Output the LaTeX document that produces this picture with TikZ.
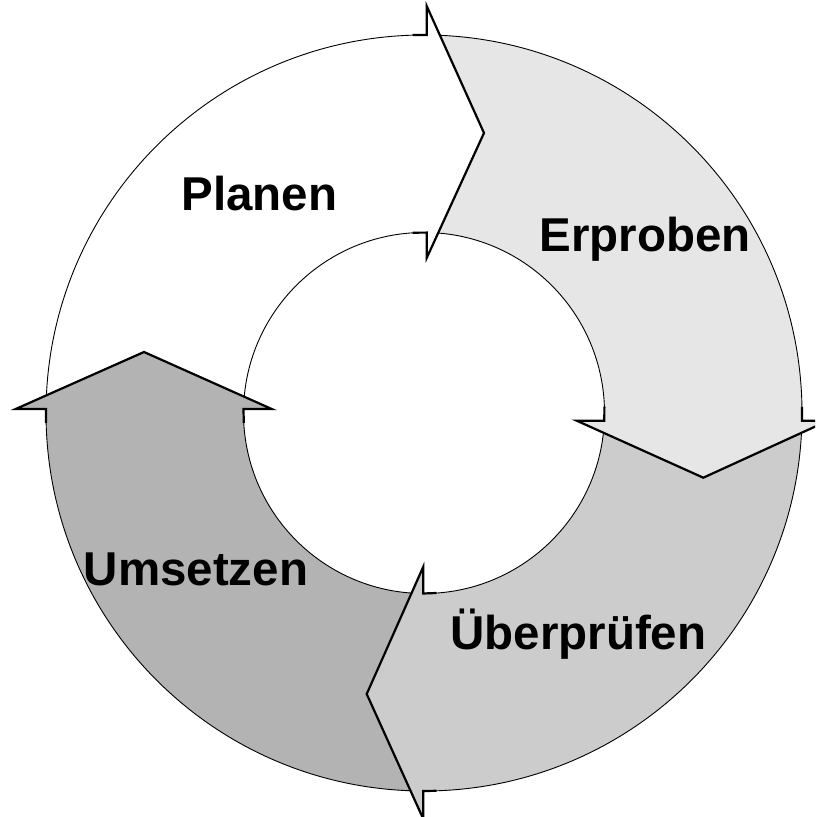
\documentclass[tikz,border=0pt]{standalone}
\usepackage{fontspec}
\setmainfont{Liberation Sans}
\definecolor{cPla}{HTML}{FFFFFF}
\definecolor{cErp}{HTML}{E6E6E6}
\definecolor{cUeb}{HTML}{CCCCCC}
\definecolor{cUms}{HTML}{B3B3B3}
\begin{document}
\begin{tikzpicture}[x=1pt,y=1pt,
  ringline/.style={line width=0.9pt},
  headline/.style={line width=2.2pt, line join=miter, miter limit=10},
  lbl/.style={font=\fontsize{47.5}{57}\selectfont\bfseries, anchor=base, inner sep=0pt}]
\useasboundingbox (0,0) rectangle (815,817);
\fill[white] (0,0) rectangle (815,817);
\clip (0,0) rectangle (815,817);
\coordinate (C) at (424,404);
% ---- bodies (annular sectors) ----
\fill[cPla] ([shift={(C)}]179.39:378) arc[start angle=179.39, end angle=89.59, radius=378]
  -- ([shift={(C)}]89.14:180.5) arc[start angle=89.14, end angle=178.73, radius=180.5] -- cycle;
\fill[cErp] ([shift={(C)}]89.59:378) arc[start angle=89.59, end angle=-1.17, radius=378]
  -- ([shift={(C)}]-2.44:180.5) arc[start angle=-2.44, end angle=89.14, radius=180.5] -- cycle;
\fill[cUeb] ([shift={(C)}]-1.17:378) arc[start angle=-1.17, end angle=-90.1, radius=378]
  -- ([shift={(C)}]-90.22:180.5) arc[start angle=-90.22, end angle=-2.44, radius=180.5] -- cycle;
\fill[cUms] ([shift={(C)}]-90.1:378) arc[start angle=-90.1, end angle=-180.61, radius=378]
  -- ([shift={(C)}]-181.27:180.5) arc[start angle=-181.27, end angle=-90.22, radius=180.5] -- cycle;
% ---- ring outlines ----
\draw[ringline] (C) circle[radius=378];
\draw[ringline] (C) circle[radius=180.5];
% ---- heads ----
% top (Planen)
\coordinate (tNo) at (412.7,782);   \coordinate (tBo) at (426.7,782);
\coordinate (tTo) at (426.7,811);   \coordinate (tP)  at (484,684);
\coordinate (tTi) at (426.7,559);   \coordinate (tBi) at (426.7,584.4);
\coordinate (tNi) at (412.7,584.3);
\fill[cPla] (tNo) -- (tBo) -- (tTo) -- (tP) -- (tTi) -- (tBi) -- (tNi) -- cycle;
\draw[headline] (tNo) -- (tBo) -- (tTo) -- (tP) -- (tTi) -- (tBi) -- (tNi);
% right (Erproben)
\coordinate (rNo) at (801.9,410.3); \coordinate (rBo) at (801.9,396.3);
\coordinate (rTo) at (828,396.3);   \coordinate (rP)  at (703.3,339.3);
\coordinate (rTi) at (576.7,396.3); \coordinate (rBi) at (604.3,396.3);
\coordinate (rNi) at (604.4,410.3);
\fill[cErp] (rNo) -- (rBo) -- (rTo) -- (rP) -- (rTi) -- (rBi) -- (rNi) -- cycle;
\draw[headline] (rNo) -- (rBo) -- (rTo) -- (rP) -- (rTi) -- (rBi) -- (rNi);
% bottom (Ueberpruefen)
\coordinate (bNo) at (436.7,26.2);  \coordinate (bBo) at (423.3,26);
\coordinate (bTo) at (423.3,-2);    \coordinate (bP)  at (366.7,123);
\coordinate (bTi) at (423.3,250.3); \coordinate (bBi) at (423.3,223.5);
\coordinate (bNi) at (436.7,224);
\fill[cUeb] (bNo) -- (bBo) -- (bTo) -- (bP) -- (bTi) -- (bBi) -- (bNi) -- cycle;
\draw[headline] (bNo) -- (bBo) -- (bTo) -- (bP) -- (bTi) -- (bBi) -- (bNi);
% left (Umsetzen)
\coordinate (lNo) at (46.1,394);    \coordinate (lBo) at (46,408);
\coordinate (lTo) at (15.7,408);    \coordinate (lP)  at (144,465);
\coordinate (lTi) at (271.7,408);   \coordinate (lBi) at (243.5,408);
\coordinate (lNi) at (243.8,394);
\fill[cUms] (lNo) -- (lBo) -- (lTo) -- (lP) -- (lTi) -- (lBi) -- (lNi) -- cycle;
\draw[headline] (lNo) -- (lBo) -- (lTo) -- (lP) -- (lTi) -- (lBi) -- (lNi);
% ---- labels ----
\node[lbl] (planen) at (259.5,606.3) {Planen};
\node[lbl] (erproben) at (644.9,565.3) {Erproben};
\node[lbl] (ueberpruefen) at (578.3,167) {Überprüfen};
\node[lbl] (umsetzen) at (196,231) {Umsetzen};
\end{tikzpicture}
\end{document}
